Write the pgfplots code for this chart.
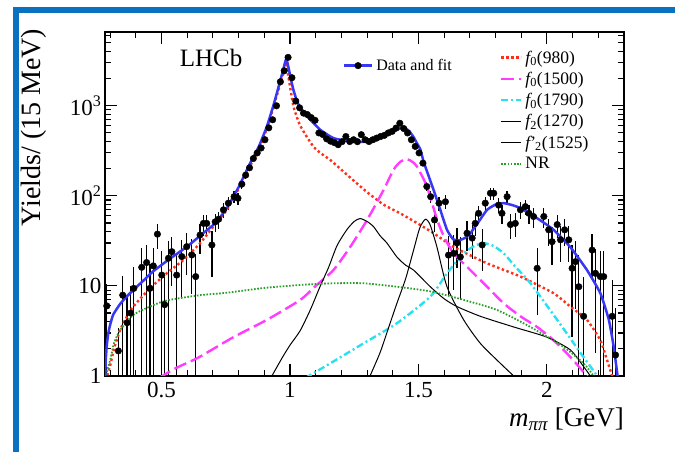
\documentclass[border=0pt]{standalone}
\usepackage{fontspec}
\setmainfont{Liberation Serif}
\usepackage{pgfplots}
\usepackage{pgfplotstable}
\pgfplotsset{compat=1.18}
\definecolor{fitblue}{RGB}{55,55,245}
\definecolor{cred}{RGB}{255,45,25}
\definecolor{cmag}{RGB}{255,60,255}
\definecolor{ccyan}{RGB}{40,225,240}
\definecolor{cgreen}{RGB}{40,160,40}
\definecolor{framecol}{RGB}{10,112,192}

\pgfplotstableread{
x y ep em
0.287 6.0 4.5 5.6
0.332 1.9 1.5 1.5
0.349 7.9 5.0 7.5
0.366 3.9 4.0 3.5
0.380 5.0 5.0 4.6
0.392 9.4 7.0 9.0
0.423 16.1 10 15.7
0.442 18.2 10 17.8
0.455 9.4 8 9.0
0.468 16.7 10 16.3
0.484 37.6 11 12
0.501 13.2 11 12.8
0.512 6.2 6.5 5.8
0.527 20.3 11 19.9
0.540 24 11 14
0.559 13.2 10 12.8
0.579 21.2 11 14
0.598 27.3 11 14
0.618 22.1 11 14
0.633 12.7 10 12.3
0.650 36.8 12 14
0.663 49.5 12 14
0.676 49.5 12 14
0.696 28.5 12 16
0.709 51.5 12 12
0.722 55 12 12
0.741 70 13 13
0.760 83 13 13
0.7825 98 14 14
0.7975 94 14 14
0.8125 135 15 15
0.8275 170 16 16
0.8425 205 17 17
0.8575 260 18 18
0.8725 300 19 19
0.8875 340 20 20
0.9025 420 22 22
0.9175 570 25 25
0.9325 700 28 28
0.9475 1000 32 32
0.9625 1850 45 45
0.9775 2450 50 50
0.9925 3450 60 60
1.0075 2050 45 45
1.0225 1130 35 35
1.0375 950 32 32
1.0525 830 30 30
1.0675 800 30 30
1.0825 740 28 28
1.0975 690 27 27
1.1125 500 23 23
1.1275 480 22 22
1.1425 430 21 21
1.1575 405 21 21
1.1725 390 20 20
1.1875 370 20 20
1.2025 400 20 20
1.2175 456 21 21
1.2325 401 20 20
1.2475 420 21 21
1.2625 400 20 20
1.2775 478 22 22
1.2925 420 21 21
1.3075 401 20 20
1.3225 420 21 21
1.3375 438 21 21
1.3525 456 21 21
1.3675 470 22 22
1.3825 500 22 22
1.3975 520 23 23
1.4125 565 24 24
1.4275 640 25 25
1.4425 560 24 24
1.4575 500 23 23
1.4725 420 21 21
1.4875 354 20 20
1.5025 300 19 19
1.5175 231 17 17
1.5325 127 15 15
1.5475 98 15 15
1.5625 54 14 14
1.5800 83 15 15
1.6050 86 15 15
1.6170 22 14 14
1.6370 23 14 14
1.6500 30 14 14
1.6630 21 14 14
1.6890 38.5 14 14
1.7090 34 14 14
1.7210 49.5 14 14
1.7340 64 14 14
1.7480 28.5 14 14
1.7600 83 15 15
1.7800 107 16 16
1.7930 107 16 16
1.8120 79 15 15
1.8250 64 15 15
1.8450 98 15 15
1.8580 48 15 15
1.8770 49.5 15 15
1.8970 70 15 15
1.9160 76 15 15
1.9300 64 15 15
1.9480 59 15 15
1.9620 15.7 11 11
1.9880 59 15 15
2.0070 42 14 14
2.0200 31 14 14
2.0400 48 14 14
2.0530 32.5 14 14
2.0690 42 14 14
2.0850 32.5 14 14
2.0980 15.7 13 13
2.1110 18.6 13 13
2.1240 9.8 12 9.4
2.1430 4.6 8 4.2
2.1760 25 13 13
2.1890 13.8 12 12
2.2080 12.7 12 12
2.2210 12.7 12 12
2.2540 4.6 7 4.2
2.2670 1.71 4 1.3
}\datatab

\begin{document}
\begin{tikzpicture}
\path[use as bounding box] (0pt,0pt) rectangle (675pt,452pt);
\fill[framecol] (13pt,0pt) rectangle (19pt,445pt);
\fill[framecol] (13pt,439pt) rectangle (675pt,445pt);
\begin{axis}[
  at={(105pt,76pt)}, anchor=south west,
  scale only axis, width=519pt, height=344pt,
  ymode=log, xmin=0.28, xmax=2.3, ymin=1, ymax=6600,
  xtick={0.5,1,1.5,2}, xticklabels={0.5,1,1.5,2},
  minor xtick={0.3,0.4,0.6,0.7,0.8,0.9,1.1,1.2,1.3,1.4,1.6,1.7,1.8,1.9,2.1,2.2},
  ytick={1,10,100,1000}, yticklabels={1,10,10\textsuperscript{2},10\textsuperscript{3}},
  minor ytick={2,3,4,5,6,7,8,9,20,30,40,50,60,70,80,90,200,300,400,500,600,700,800,900,2000,3000,4000,5000,6000},
  tick align=inside, major tick length=12pt, minor tick length=6pt,
  every tick/.style={black, line width=1.1pt},
  axis line style={line width=1.3pt},
  xticklabel style={font=\fontsize{23}{26}\selectfont, yshift=-3pt},
  yticklabel style={font=\fontsize{23}{26}\selectfont},
  xlabel={{\itshape m}\textsubscript{\itshape ππ} [GeV]},
  xlabel style={at={(rel axis cs:1,-0.093)}, anchor=north east, inner sep=0pt, font=\fontsize{27}{30}\selectfont},
  ylabel={Yields/ (15 MeV)},
  ylabel style={at={(rel axis cs:-0.137,1.01)}, anchor=east, inner sep=0pt, font=\fontsize{28}{30}\selectfont},
  legend style={at={(0.755,0.955)}, anchor=north west, draw=none, fill=none,
    font=\fontsize{17.5}{20}\selectfont, row sep=5.5pt, nodes={inner ysep=1pt, inner xsep=3pt}},
  legend cell align=left,
  legend image code/.code={\draw[#1] (0pt,0pt) -- (20pt,0pt);},
]
% data
\addplot[forget plot, only marks, mark=*, mark size=3.3pt, black,
  error bars/.cd, y dir=both, y explicit, error mark=none,
  error bar style={line width=1.3pt, black}]
  table[x=x, y=y, y error plus=ep, y error minus=em]{\datatab};
% f0(980)
\addplot[cred, line width=2.4pt, dash pattern=on 2.4pt off 2.6pt, smooth, tension=0.3] coordinates {
(0.283,0.9) (0.30,1.3) (0.315,2.0) (0.338,3.2) (0.36,4.3) (0.39,5.9) (0.455,9.4) (0.52,13.8) (0.585,19.4) (0.65,29.8) (0.70,45) (0.754,70) (0.80,120) (0.845,215) (0.88,330) (0.91,560) (0.935,950) (0.955,1500) (0.97,2100) (0.985,2850) (0.995,2000) (1.013,1000) (1.026,760) (1.04,600) (1.066,450) (1.092,350) (1.118,300) (1.157,250) (1.20,195) (1.234,160) (1.30,110) (1.364,80) (1.429,64) (1.494,50) (1.559,38.5) (1.637,27) (1.70,22) (1.767,17.8) (1.897,12.7) (2.026,8.3) (2.091,5.9) (2.156,4.2) (2.208,2.5) (2.234,1.5) (2.254,1.0) (2.26,0.9)};
\addlegendentry{{\itshape f}\textsubscript{0}(980)}
% f0(1500)
\addplot[cmag, line width=2.4pt, dash pattern=on 13pt off 5pt, smooth, tension=0.4] coordinates {
(0.49,0.95) (0.55,1.2) (0.60,1.4) (0.65,1.64) (0.78,2.7) (0.91,4.2) (1.04,7) (1.10,10) (1.169,15) (1.234,27) (1.30,54) (1.364,116) (1.403,195) (1.43,240) (1.455,256) (1.475,240) (1.494,212) (1.533,127) (1.572,55) (1.60,35) (1.637,23) (1.702,15) (1.767,9.8) (1.832,6.4) (1.897,4.6) (1.962,3.5) (2.026,2.5) (2.09,1.64) (2.156,1.0) (2.165,0.95)};
\addlegendentry{{\itshape f}\textsubscript{0}(1500)}
% f0(1790)
\addplot[ccyan, line width=2.4pt, dash pattern=on 7pt off 3pt on 2pt off 3pt, smooth, tension=0.4] coordinates {
(1.06,0.95) (1.169,1.45) (1.286,2.3) (1.416,3.85) (1.546,7.6) (1.611,13.8) (1.676,23) (1.72,28) (1.754,29.8) (1.79,28) (1.832,23) (1.88,16) (1.936,10.7) (2.04,4.2) (2.131,1.8) (2.196,1.0) (2.2,0.95)};
\addlegendentry{{\itshape f}\textsubscript{0}(1790)}
% f2(1270)
\addplot[black, line width=1.0pt, smooth, tension=0.4] coordinates {
(0.925,0.95) (0.97,1.6) (1.00,2.2) (1.04,3.2) (1.08,5.5) (1.118,10) (1.15,16) (1.183,28) (1.221,42) (1.25,52) (1.273,56) (1.30,52) (1.325,45.6) (1.351,36) (1.377,30) (1.416,21) (1.45,17) (1.481,15) (1.546,9.8) (1.60,7.2) (1.650,5.9) (1.741,4.6) (1.871,3.5) (2.0,2.7) (2.091,1.95) (2.143,1.27) (2.169,1.0) (2.175,0.95)};
\addlegendentry{{\itshape f}\textsubscript{2}(1270)}
% f2'(1525)
\addplot[black, line width=1.0pt, smooth, tension=0.4] coordinates {
(1.308,0.95) (1.35,1.8) (1.38,3.2) (1.416,6.4) (1.45,12) (1.481,25) (1.505,44) (1.527,55) (1.545,48) (1.572,27) (1.611,9.8) (1.676,4.2) (1.741,2.3) (1.819,1.38) (1.871,1.0) (1.88,0.95)};
\addlegendentry{{\itshape f}’\kern-1pt\textsubscript{2}(1525)}
% NR
\addplot[cgreen, line width=1.8pt, dash pattern=on 1.6pt off 1.6pt, smooth, tension=0.4] coordinates {
(0.28,0.95) (0.30,1.5) (0.315,2.3) (0.338,3.2) (0.39,4.76) (0.455,5.9) (0.52,6.9) (0.65,7.9) (0.754,8.4) (0.9,9.5) (1.05,10.3) (1.169,10.7) (1.286,10.7) (1.416,9.8) (1.546,8.7) (1.676,7.0) (1.806,5.4) (1.936,3.5) (2.065,2.1) (2.143,1.38) (2.182,1.0) (2.19,0.95)};
\addlegendentry{NR}
% total fit
\addplot[forget plot, fitblue, line width=2.5pt, smooth, tension=0.3] coordinates {
(0.2805,0.95) (0.283,1.5) (0.287,2.2) (0.293,3.0) (0.30,3.7) (0.312,4.8) (0.337,6.2) (0.36,7.4) (0.39,9.0) (0.43,11.5) (0.467,14.5) (0.532,20) (0.597,27) (0.662,38.5) (0.71,50) (0.754,73) (0.80,125) (0.845,231) (0.88,360) (0.91,589) (0.935,1000) (0.955,1600) (0.97,2300) (0.985,3300) (0.995,2600) (1.005,1900) (1.013,1515) (1.026,1150) (1.04,950) (1.06,800) (1.079,700) (1.118,541) (1.169,438) (1.234,401) (1.30,401) (1.364,456) (1.403,520) (1.43,565) (1.445,575) (1.465,520) (1.481,450) (1.495,380) (1.507,330) (1.52,240) (1.54,165) (1.559,116) (1.585,70) (1.611,42) (1.635,33) (1.656,32) (1.68,34) (1.702,38.5) (1.735,52) (1.767,70) (1.80,80) (1.832,83) (1.865,79) (1.897,73) (1.962,56.5) (2.026,42) (2.091,27) (2.156,15) (2.208,8.3) (2.241,4.2) (2.26,2.1) (2.275,1.0) (2.277,0.95)};
\end{axis}
\begin{axis}[
  at={(105pt,76pt)}, anchor=south west,
  scale only axis, width=519pt, height=344pt,
  hide axis, xmin=0, xmax=1, ymin=0, ymax=1,
  legend style={at={(0.452,0.93)}, anchor=north west, draw=none, fill=none,
    font=\fontsize{16}{19}\selectfont, nodes={inner ysep=1pt, inner xsep=3pt}},
  legend cell align=left,
]
\addlegendimage{legend image code/.code={\draw[fitblue, line width=2.5pt] (0pt,0pt) -- (28pt,0pt); \fill[black] (14pt,0pt) circle (3.3pt);}}
\addlegendentry{Data and fit}
\end{axis}
\node[font=\fontsize{25}{28}\selectfont, inner sep=0pt] at (211pt,394pt) {LHCb};
\end{tikzpicture}
\end{document}
